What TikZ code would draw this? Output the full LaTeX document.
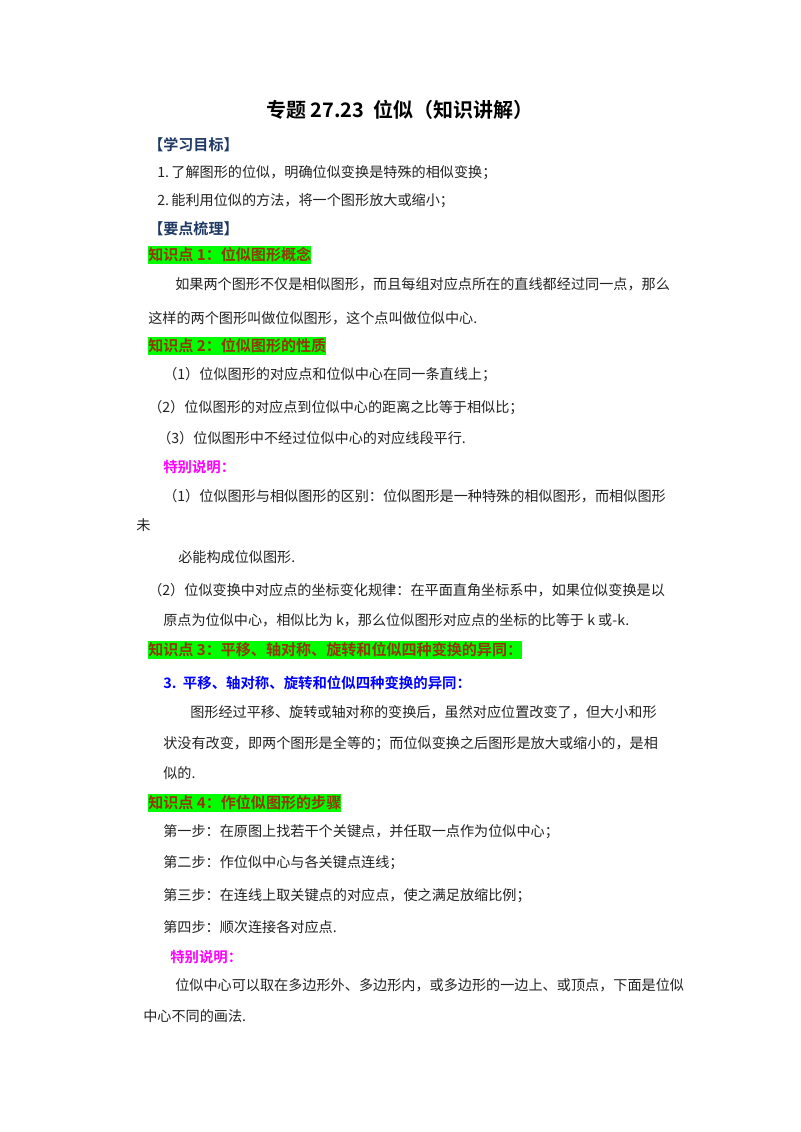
\documentclass[tikz,border=0pt]{standalone}
\usepackage{fontspec}
\setmainfont{Noto Sans CJK SC}
\newfontfamily\cjkb{Noto Sans CJK SC Bold}
\definecolor{hdblue}{HTML}{1F3864}
\definecolor{kred}{HTML}{993300}
\definecolor{kgreen}{HTML}{00FF00}
\definecolor{pinkc}{HTML}{FF00FF}
\definecolor{txt}{HTML}{222222}
\begin{document}
\begin{tikzpicture}[x=0.75pt,y=-0.75pt,
  t/.style={anchor=west,inner sep=0pt,font=\fontsize{10.6}{13}\selectfont,text=txt},
  hd/.style={anchor=west,inner sep=0pt,font=\cjkb\fontsize{11.3}{13}\selectfont,text=hdblue},
  kp/.style={anchor=west,inner xsep=0pt,inner ysep=1.5pt,fill=kgreen,font=\cjkb\fontsize{11.3}{13}\selectfont,text=kred},
  pk/.style={anchor=west,inner sep=0pt,font=\cjkb\fontsize{10.8}{13}\selectfont,text=pinkc}]
\useasboundingbox (0,0) rectangle (800,1132);
\node[font=\cjkb\fontsize{15}{18}\selectfont,inner sep=0pt] (title) at (400,110) {专题 27.23\ \ 位似（知识讲解）};
\node[hd] (h1) at (148,145) {【学习目标】};
\node[t] (a1) at (157,173) {1.\,了解图形的位似，明确位似变换是特殊的相似变换；};
\node[t] (a2) at (157,201) {2.\,能利用位似的方法，将一个图形放大或缩小；};
\node[hd] (h2) at (148,229) {【要点梳理】};
\node[kp] (k1) at (148,255) {知识点 1：位似图形概念};
\node[t] (b1) at (175,284) {如果两个图形不仅是相似图形，而且每组对应点所在的直线都经过同一点，那么};
\node[t] (b2) at (148,318) {这样的两个图形叫做位似图形，这个点叫做位似中心.};
\node[kp] (k2) at (148,346) {知识点 2：位似图形的性质};
\node[t] (c1) at (163,375) {（1）位似图形的对应点和位似中心在同一条直线上；};
\node[t] (c2) at (148,408) {（2）位似图形的对应点到位似中心的距离之比等于相似比；};
\node[t] (c3) at (157,438) {（3）位似图形中不经过位似中心的对应线段平行.};
\node[pk] (s1) at (163,467) {特别说明：};
\node[t] (d1) at (163,496) {（1）位似图形与相似图形的区别：位似图形是一种特殊的相似图形，而相似图形};
\node[t] (d2) at (136,525) {未};
\node[t] (d3) at (178,557) {必能构成位似图形.};
\node[t] (d4) at (148,590) {（2）位似变换中对应点的坐标变化规律：在平面直角坐标系中，如果位似变换是以};
\node[t] (d5) at (163,620) {原点为位似中心，相似比为 k，那么位似图形对应点的坐标的比等于 k 或-k.};
\node[kp] (k3) at (148,650) {知识点 3：平移、轴对称、旋转和位似四种变换的异同：};
\node[anchor=west,inner sep=0pt,font=\cjkb\fontsize{10.8}{13}\selectfont,text=blue] (e0) at (163,683) {3.\ \ 平移、轴对称、旋转和位似四种变换的异同：};
\node[t] (e1) at (190,712) {图形经过平移、旋转或轴对称的变换后，虽然对应位置改变了，但大小和形};
\node[t] (e2) at (163,744) {状没有改变，即两个图形是全等的；而位似变换之后图形是放大或缩小的，是相};
\node[t] (e3) at (163,773) {似的.};
\node[kp] (k4) at (148,803) {知识点 4：作位似图形的步骤};
\node[t] (f1) at (163,832) {第一步：在原图上找若干个关键点，并任取一点作为位似中心；};
\node[t] (f2) at (163,863) {第二步：作位似中心与各关键点连线；};
\node[t] (f3) at (163,896) {第三步：在连线上取关键点的对应点，使之满足放缩比例；};
\node[t] (f4) at (163,927) {第四步：顺次连接各对应点.};
\node[pk] (s2) at (170,957) {特别说明：};
\node[t] (g1) at (175,985) {位似中心可以取在多边形外、多边形内，或多边形的一边上、或顶点，下面是位似};
\node[t] (g2) at (143,1016) {中心不同的画法.};
\end{tikzpicture}
\end{document}
